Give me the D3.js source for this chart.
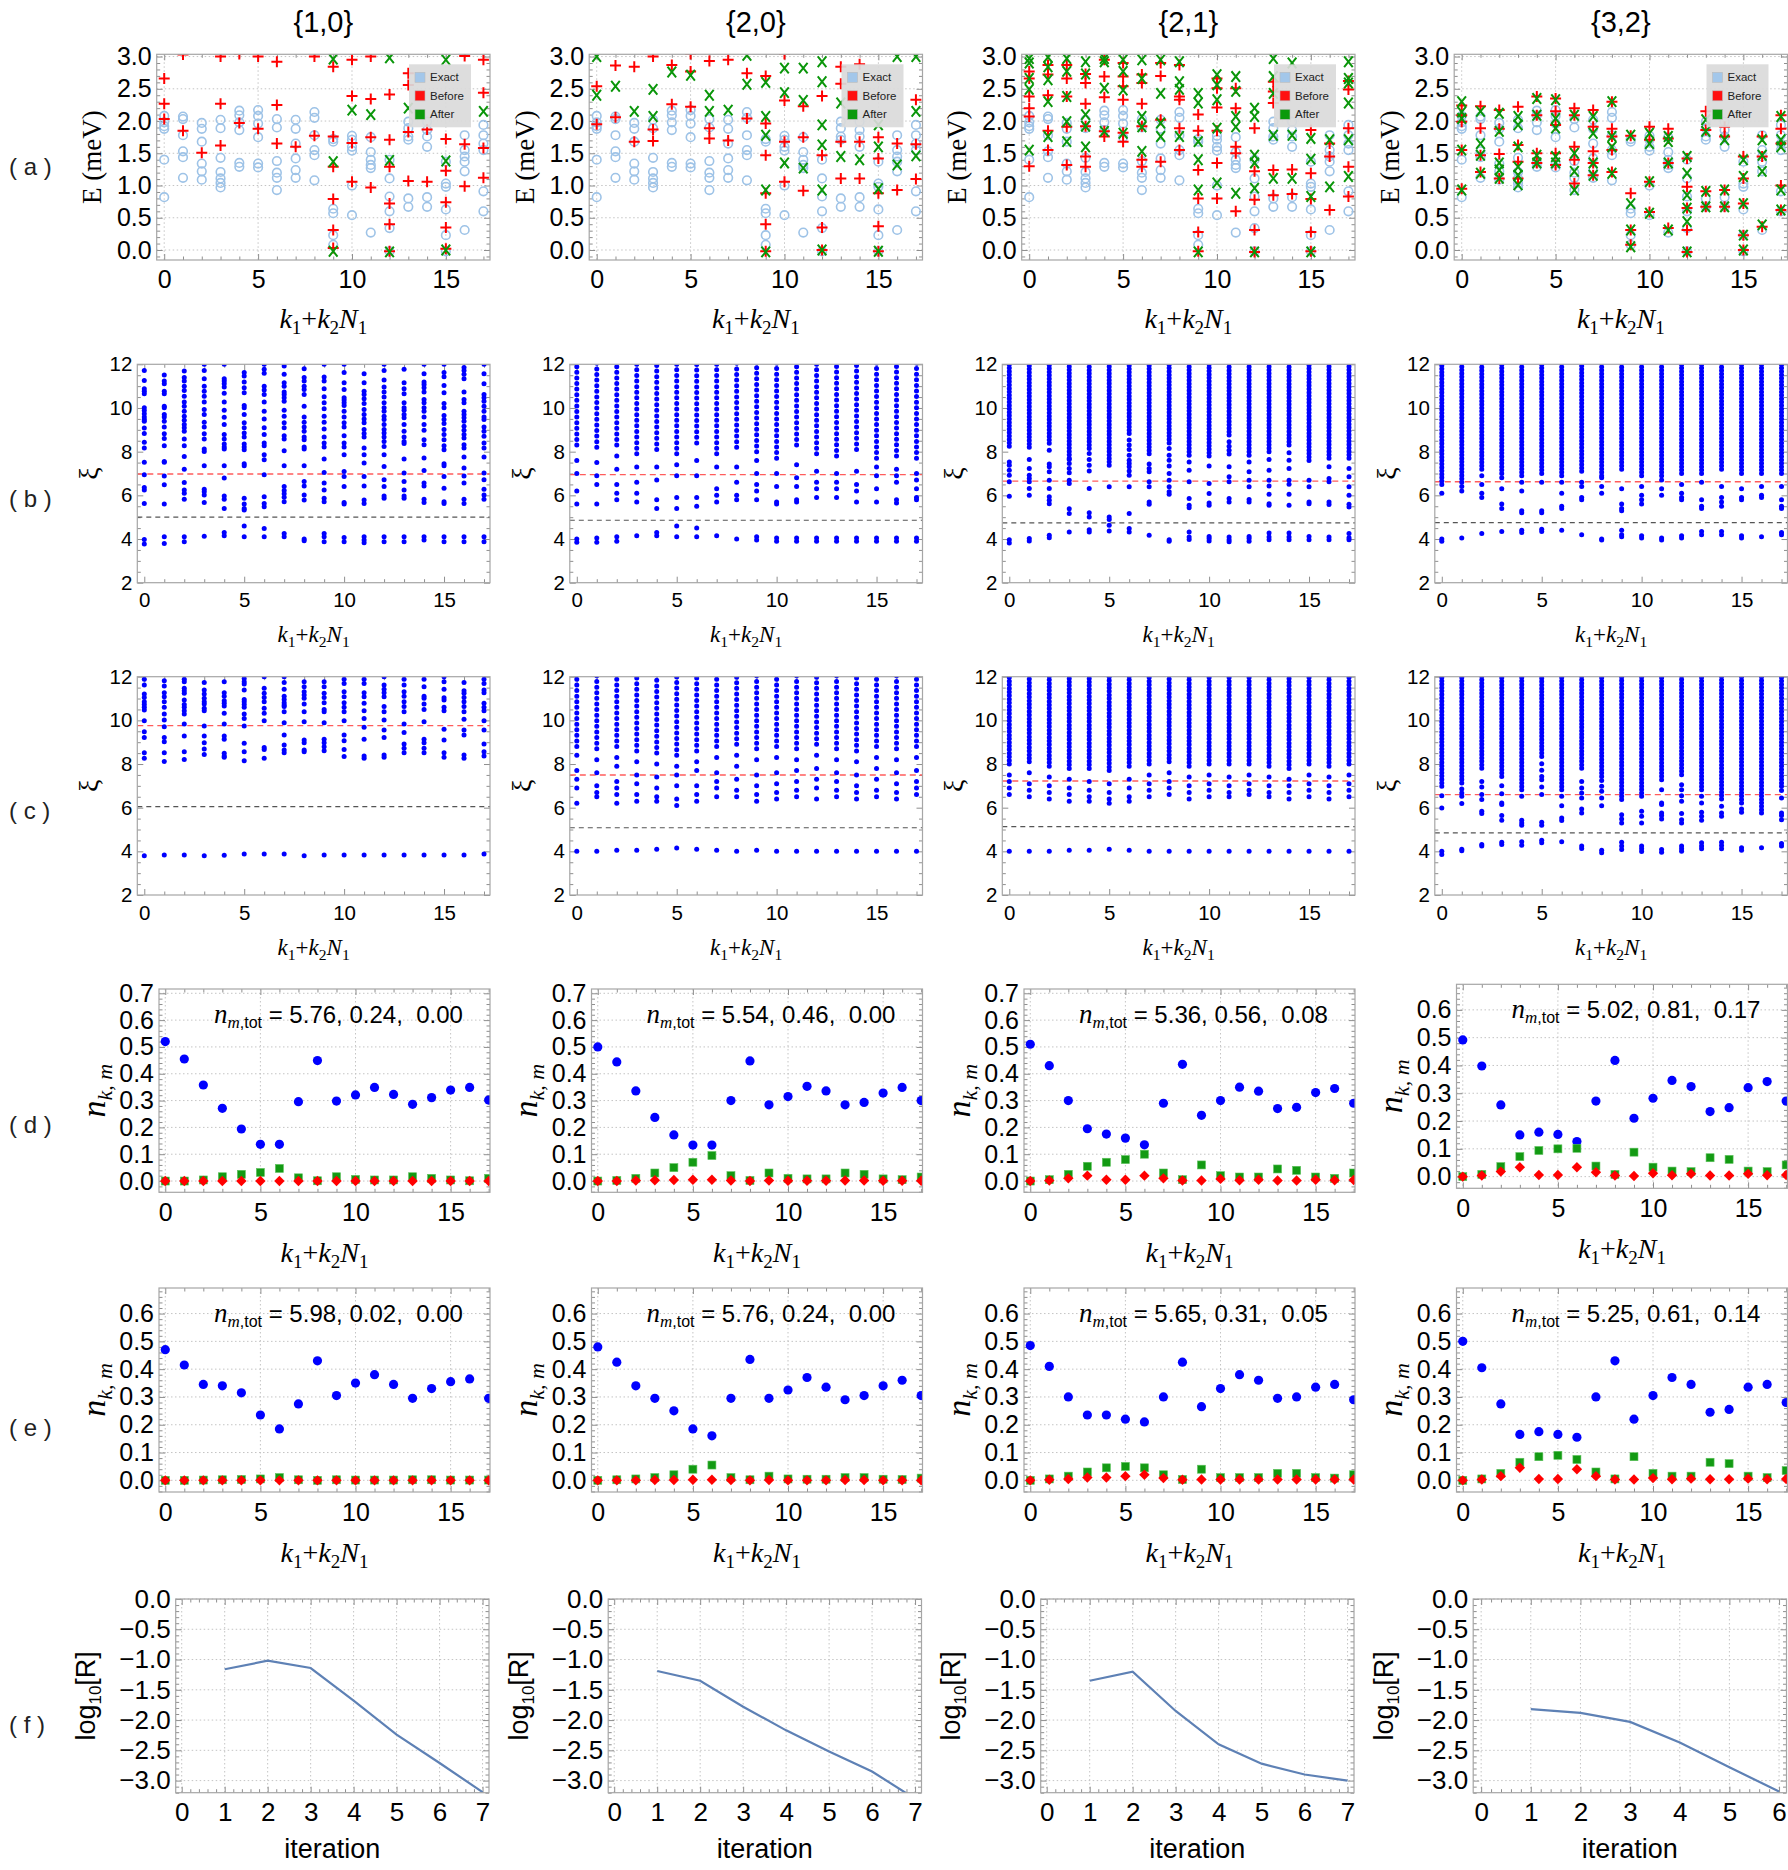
<!DOCTYPE html>
<html>
<head>
<meta charset="utf-8">
<script src="https://cdn.jsdelivr.net/npm/d3@7"></script>
<style>body{margin:0;background:#fff}svg{display:block}</style>
</head>
<body>
<svg id="fig" width="1788" height="1870"></svg>
<script>
// ---------- data ----------
const titles = ["{1,0}", "{2,0}", "{2,1}", "{3,2}"];
const rowTags = ["a", "b", "c", "d", "e", "f"];

// row (a): exact spectrum (same in every column), before / after
const aExact = [
  [2.08,1.98,1.92,1.88,1.40,0.82],[2.07,2.03,1.78,1.53,1.44,1.12],[1.97,1.88,1.68,1.34,1.22,1.09],
  [2.02,1.89,1.43,1.21,1.11,1.04,0.97],[2.16,2.09,1.98,1.86,1.35,1.29],[2.17,2.08,1.96,1.75,1.34,1.28],
  [2.03,1.90,1.38,1.20,1.12,0.93],[2.02,1.88,1.65,1.42,1.24,1.12],[2.14,2.05,1.78,1.55,1.47,1.08],
  [1.72,1.68,0.64,0.57,0.23,0.08],[1.77,1.71,1.60,1.54,1.00,0.54],[1.75,1.52,1.40,1.32,1.27,0.27],
  [1.40,1.11,0.83,0.60,0.34,-0.02],[1.99,1.89,1.76,1.71,0.80,0.67],[1.99,1.86,1.76,1.60,0.82,0.67],
  [1.37,1.03,0.98,0.63,0.23,-0.02],[1.78,1.55,1.45,1.37,1.22,0.31],[1.94,1.78,1.65,1.55,0.91,0.60]
];
const aBefore10 = [
  [2.66,2.27,2.03],[3.03,1.85],[1.51],[3.0,2.27,1.62],[3.04,1.97],[3.0,1.88],[2.92,2.25,1.65],[1.6],[3.0,1.77],
  [2.84,1.76,1.29,0.79,0.31,0.03],[2.95,2.39,1.66,1.06],[3.0,2.34,1.75,0.97],[2.41,1.71,1.29,0.72,0.40,-0.02],
  [2.74,2.56,1.83,1.07],[1.87,1.06],[1.72,1.23,0.74,0.35,0.02],[3.01,1.64,0.99],[2.95,2.44,1.58,1.12]
];
const aAfter10 = [
  [],[],[],[],[],[],[],[],[],[2.96,1.37,-0.02],[2.17],[2.10],[2.98,1.39,-0.03],[2.20],[],[2.95,1.38,0.0],[],[2.15]
];
const aBefore20 = [
  [2.54,1.95],[2.86,2.06],[2.84,1.68],[3.0,1.87,1.69],[2.87,2.26],[3.04,2.77,2.22],[2.93,1.89,1.73],[2.95,1.70],
  [2.74,2.04],[2.70,1.96,1.47,0.88,0.40,-0.02],[3.04,2.32,1.68,1.06],[2.23,1.75,0.92],[2.39,1.47,0.35,0.0],
  [2.84,2.58,1.68,1.11],[2.88,1.68,1.11],[1.75,1.42,0.88,0.37,-0.02],[1.65,0.93],[2.33,1.64,1.10]
];
const aAfter20 = [
  [3.0,2.40],[2.54],[2.15],[2.49,2.07],[2.76],[2.71],[2.40,2.15],[2.17],[3.02,2.57],[2.60,2.07,1.78,0.93,-0.03],
  [2.82,2.44,1.35],[2.82,2.32,1.27],[2.92,2.61,1.94,1.63,0.93,0.0],[2.28,1.45],[1.40],[1.94,1.60,0.95,-0.02],
  [3.0,1.32],[3.0,2.15,1.46]
];
const aBefore21 = [
  [2.77,2.66,2.38,2.20,2.07,1.30],[2.87,2.72,2.40,1.85,1.55],[2.87,2.66,2.38,1.91,1.32],[2.73,2.59,2.27,1.92,1.45,1.29],
  [2.95,2.69,2.37,1.84,1.76],[2.90,2.69,2.54,2.33,1.82,1.68],[2.72,2.59,2.27,1.92,1.40,1.29],[2.90,2.70,2.02,1.37],
  [2.87,2.38,2.33,1.89,1.55],[2.10,1.85,1.24,0.80,0.28,-0.02],[2.66,2.51,2.21,1.85,1.35,0.80],[2.51,2.20,1.60,1.50,0.60],
  [1.89,1.22,0.78,0.31,-0.03],[2.61,2.46,2.28,1.24,0.85],[1.25,0.87],[1.86,1.19,0.79,0.28,-0.02],[1.65,1.45,0.62],
  [2.62,2.49,1.89,1.29,0.83]
];
const aAfter21 = [
  [2.97,2.90,2.66,2.49,1.55],[2.99,2.84,2.64,2.30,1.76],[2.97,2.77,2.38,1.99,1.68],[2.92,2.73,2.10,1.92,1.60],
  [2.97,2.92,2.51,1.84],[2.95,2.77,2.48,1.81],[2.95,2.66,2.07,1.91,1.53],[2.95,2.43,1.97,1.76],[2.92,2.61,2.49,1.76],
  [2.43,2.28,1.68,1.40,0.93,-0.03],[2.72,2.56,2.33,1.89,1.04],[2.69,2.46,2.07,1.91,0.88],[2.20,2.07,1.47,1.35,0.96,-0.03],
  [2.97,2.69,2.43,1.78,1.11],[2.90,1.78,1.11],[1.73,1.41,0.83,-0.03],[1.71,0.98],[2.92,2.66,2.59,2.28,1.71,1.14]
];
const aBefore32 = [
  [2.24,2.09,1.99,1.55,0.95],[2.23,1.89,1.47,1.21],[2.17,1.88,1.49,1.11],[2.22,1.63,1.37,1.11],[2.38,2.09,1.50,1.35],
  [2.35,2.15,1.94,1.50,1.32],[2.20,2.09,1.60,1.40,1.03],[2.17,1.91,1.53,1.35,1.16],[2.30,1.88,1.76,1.55,1.21],
  [1.77,0.88,0.31,0.08],[1.91,1.71,1.06,0.59],[1.88,1.73,1.35,0.34],[1.42,0.98,0.65,0.31,-0.03],[2.15,1.86,0.91,0.67],
  [1.91,1.76,0.93,0.67],[1.45,1.11,0.72,0.23,0.0],[1.76,1.45,0.36],[2.09,1.88,1.65,1.00,0.62]
];
const aAfter32 = [
  [2.30,2.14,2.04,1.55,0.93],[2.15,1.65,1.47,1.19],[2.12,1.84,1.35,1.24,1.11],[2.07,1.94,1.60,1.29,1.16,1.01],
  [2.35,2.09,1.47,1.35],[2.33,2.04,1.89,1.45,1.35],[2.09,1.50,1.22,0.93],[2.07,1.81,1.35,1.16],[2.30,1.76,1.60,1.19],
  [1.78,0.72,0.31,0.05],[1.81,1.65,1.06,0.57],[1.76,1.68,1.35,0.31],[1.45,1.19,0.85,0.65,0.44,-0.03],[2.02,1.84,0.91,0.67],
  [1.71,0.93,0.67],[1.40,1.14,0.72,0.23,0.0],[1.71,1.47,1.22,0.39],[2.07,1.71,1.60,0.93,0.62]
];

// rows (b),(c): entanglement levels per k; "band" = lower end of a densely packed run up to 12
const bDots10 = [
  [11.72,11.26,10.88,10.77,10.65,10.01,9.88,9.74,9.59,9.47,9.39,9.08,8.83,8.43,8.17,7.51,6.94,6.36,6.25,5.63,3.98,3.77],
  [11.51,11.23,11.11,10.77,10.65,10.08,10.01,9.7,9.59,9.39,9.13,8.82,8.6,8.27,7.55,7.51,6.89,6.48,5.6,4.1,3.79],
  [11.69,11.39,11.23,11.0,10.8,10.54,10.27,10.08,9.85,9.62,9.44,9.24,9.09,8.93,8.58,8.27,7.78,7.2,6.59,6.25,6.1,5.82,4.1,3.87],
  [12.0,11.72,11.34,11.0,10.77,10.54,10.27,9.93,9.7,9.35,9.13,8.82,8.58,8.12,8.01,7.35,6.28,6.17,6.02,5.67,4.13],
  [12.0,11.34,11.23,11.11,10.96,10.67,10.27,9.9,9.58,9.24,8.78,8.58,8.35,8.21,8.12,7.35,6.79,5.97,5.82,5.4,4.3,4.15],
  [11.62,11.46,11.19,10.93,10.7,10.11,10.01,9.7,9.32,9.09,8.86,8.67,8.35,8.21,8.09,7.45,7.35,5.87,5.6,5.4,5.33,4.6,4.1],
  [12.0,11.77,11.59,11.0,10.82,10.62,10.27,9.85,9.5,9.09,8.78,8.4,8.27,7.86,7.63,6.94,5.94,5.63,5.48,4.48,4.1],
  [11.92,11.54,11.16,11.0,10.73,10.62,10.47,10.31,9.9,9.62,9.32,9.09,8.73,8.58,8.04,7.35,6.4,6.22,6.07,5.91,5.71,4.25,4.1],
  [11.8,11.39,11.23,11.0,10.85,10.62,10.08,9.59,9.35,9.13,8.93,8.67,8.55,8.21,8.12,7.35,6.63,6.43,6.02,5.79,4.0,3.92],
  [12.0,11.42,11.23,10.88,10.51,10.24,9.96,9.62,9.35,9.04,8.67,8.4,8.21,7.66,7.05,6.56,6.25,5.87,5.71,4.25,4.1,3.87],
  [12.0,11.62,11.16,10.85,10.47,10.36,10.24,10.11,9.85,9.59,9.32,9.13,8.73,8.4,8.21,7.86,7.09,6.86,6.4,5.67,5.6,4.07,3.87],
  [11.57,11.16,10.77,10.62,10.42,10.21,9.93,9.7,9.5,9.32,9.01,8.83,8.67,8.17,7.86,7.48,6.86,6.43,5.79,5.63,4.1,3.95,3.83],
  [12.0,11.72,11.28,10.96,10.73,10.5,10.24,10.01,9.85,9.62,9.47,9.24,9.01,8.86,8.67,8.47,8.24,7.86,7.32,6.71,6.4,5.97,5.87,4.1,3.87],
  [11.77,11.16,10.88,10.65,10.24,10.01,9.9,9.7,9.55,9.24,8.93,8.67,8.47,8.37,7.66,7.02,6.63,6.25,5.97,5.87,4.1,3.87],
  [12.0,11.57,11.19,11.08,10.93,10.73,10.39,10.24,10.01,9.85,9.59,9.24,8.98,8.55,8.32,7.71,7.14,6.56,6.43,5.82,5.67,4.1,3.95],
  [12.0,11.62,11.43,11.03,10.7,10.21,10.01,9.66,9.47,9.29,9.01,8.78,8.55,8.27,8.09,7.45,7.35,6.86,6.33,5.71,5.63,4.1,3.87],
  [11.85,11.72,11.54,11.34,10.73,10.39,10.24,9.85,9.7,9.55,9.39,9.16,8.98,8.78,8.63,8.32,8.17,7.75,7.25,6.89,6.56,5.82,5.63,4.1,3.87],
  [12.0,11.57,11.11,10.62,10.47,10.31,10.08,9.85,9.59,9.47,9.13,8.93,8.7,8.4,8.17,7.75,7.02,6.71,6.28,6.02,5.82,4.1,3.87]
];
const bBand10 = Array(18).fill(null);
const bDots20 = [
  [7.6,7.0,6.2,5.6,4.0,3.85],[7.5,6.9,6.5,5.6,4.05,3.85],[7.8,7.2,6.5,6.1,5.8,4.1,3.9],[7.3,6.6,6.1,5.7,4.15],
  [7.3,6.7,5.8,5.4,4.3,4.15],[7.4,6.9,5.9,5.4,4.6,4.1],[7.6,6.9,5.9,5.5,4.5,4.1],[7.3,6.3,6.0,5.7,4.15],
  [7.3,6.6,6.0,5.8,4.0],[7.6,7.0,6.5,6.2,5.8,4.1,3.95],[7.0,6.4,5.7,5.6,4.05,3.9],[7.4,6.8,6.4,5.8,5.7,4.05,3.9],
  [7.1,6.6,6.3,5.9,4.05,3.9],[7.0,6.6,6.3,5.9,4.05,3.9],[7.1,6.5,6.2,5.7,4.05,3.9],[7.3,6.9,6.3,5.7,4.05,3.9],
  [7.2,6.9,6.6,5.8,5.65,4.05,3.9],[7.0,6.7,6.3,5.9,5.8,4.05,3.9]
];
const bBand20 = [8.3,8.2,8.3,7.9,8.1,7.9,8.4,7.9,8.2,8.0,7.7,8.3,7.9,7.8,8.1,7.7,7.8,7.7];
const bDots21 = [
  [7.53,7.38,7.15,6.92,6.62,5.96,3.97,3.82],[7.64,7.23,6.92,6.77,6.62,6.31,6.0,4.02,3.91],
  [8.07,7.43,7.31,7.08,6.69,6.31,5.93,5.78,5.62,4.17,4.06],[7.64,7.46,7.23,7.03,6.69,6.54,5.39,5.17,4.32],
  [7.92,7.64,7.38,7.12,6.31,5.2,5.01,4.43,4.32],[6.39,5.01,4.89,4.63,4.37],
  [8.53,8.3,8.1,7.84,7.61,7.46,7.31,7.12,6.92,6.39,5.17,4.48,4.32],[7.43,7.23,7.08,6.62,6.39,5.7,5.59,4.17],
  [8.15,7.84,7.61,7.34,7.0,6.69,6.39,6.16,6.05,3.97,3.9],[7.84,7.53,7.15,6.62,5.85,5.55,5.43,4.32,4.09,3.98],
  [7.34,6.54,6.08,5.65,5.55,4.12,4.02,3.91],[8.45,8.25,8.07,7.89,7.31,6.85,6.62,5.85,5.7,4.09,3.97,3.87],
  [7.84,7.53,7.08,6.69,6.39,5.81,5.7,4.12,4.02,3.9],[7.64,7.15,6.69,6.43,6.05,5.62,5.55,4.28,4.09,3.97],
  [7.95,7.61,7.23,6.69,6.51,6.05,5.55,4.28,4.09,3.97],[6.69,6.39,5.7,5.62,4.12,3.97],
  [7.31,6.77,6.62,5.7,5.58,4.09,3.97],[7.23,6.85,6.39,6.0,5.59,5.47,4.25,4.06,3.97]
];
const bBand21 = [8.25,8.2,8.38,7.7,8.15,7.38,8.83,7.9,8.4,8.0,7.8,8.76,8.0,8.0,8.3,7.6,7.7,7.7];
const bDots32 = [
  [6.1,4.0,3.9],[6.4,6.2,4.05],[6.9,6.5,6.1,5.9,4.25],[6.8,6.3,5.6,5.4,4.35],[6.6,6.2,5.3,5.2,4.4,4.3],
  [6.6,5.3,5.2,4.45,4.35],[6.6,6.1,5.5,5.4,4.4],[6.6,6.4,5.9,5.8,4.2],[6.8,6.4,6.1,4.0,3.95],
  [6.3,5.6,5.4,5.3,4.4,4.2,4.1],[6.4,6.0,5.8,5.6,4.15,4.05],[6.7,6.3,6.0,4.05,3.95],[6.5,6.1,5.9,5.8,4.15,4.05],
  [6.6,5.8,5.5,5.4,4.35,4.2],[6.4,5.9,5.7,5.5,4.35,4.2],[6.3,5.9,5.8,4.15,4.05],[6.4,6.0,5.9,4.1],[6.4,5.8,5.5,5.4,4.3,4.2]
];
const bBand32 = [6.5,6.6,7.2,7.0,6.9,7.0,6.9,7.1,6.9,7.2,6.9,6.9,7.0,7.0,7.2,7.0,7.0,7.0];

const cDots10 = [
  [11.88,11.62,11.21,11.05,10.85,10.73,10.6,10.47,9.98,9.48,9.22,8.52,8.26,3.8],
  [11.82,11.57,11.27,11.08,10.85,10.6,10.29,10.02,9.71,9.22,9.02,8.52,8.11,3.83],
  [11.88,11.77,11.47,11.36,11.24,10.93,10.73,10.6,10.44,10.29,9.83,9.28,8.56,8.21,3.83],
  [11.74,11.39,11.21,11.01,10.85,10.75,10.55,10.44,9.74,9.28,8.98,8.69,8.44,3.8],
  [11.77,11.27,11.11,10.9,10.78,10.66,10.32,9.83,9.28,9.13,8.49,8.37,8.31,3.82],
  [11.92,11.77,11.66,11.39,10.96,10.85,10.73,10.6,10.29,10.09,9.74,8.95,8.56,8.15,3.88],
  [12.0,11.47,11.24,11.05,10.85,10.55,10.32,9.98,8.76,8.67,8.26,3.88],
  [12.0,11.73,11.42,11.11,10.96,10.81,10.7,10.63,10.4,9.89,9.33,8.87,8.64,8.52,3.88],
  [11.77,11.54,11.31,11.16,11.01,10.75,10.4,9.94,9.1,8.98,8.64,8.56,3.8],
  [11.77,11.54,11.24,11.05,10.81,10.5,10.4,9.89,9.13,8.98,8.79,8.61,3.83],
  [11.88,11.69,11.31,11.08,10.81,10.6,10.4,9.98,9.33,9.07,8.67,8.34,3.83],
  [11.88,11.69,11.27,11.08,10.78,10.44,10.09,9.68,9.13,8.37,8.26,3.83],
  [12.0,11.62,11.42,11.27,11.08,10.63,10.4,10.02,9.56,9.22,8.41,8.31,3.83],
  [11.88,11.62,11.31,11.11,10.85,10.63,10.4,9.83,9.44,8.92,8.72,8.52,3.83],
  [11.88,11.54,11.11,11.01,10.75,10.5,9.94,9.13,8.98,8.72,8.52,3.83],
  [12.0,11.77,11.42,11.04,10.93,10.6,10.44,9.59,9.1,8.52,8.31,3.83],
  [11.73,11.36,11.24,11.05,10.85,10.63,10.4,10.05,9.56,9.33,8.41,8.26,3.83],
  [11.88,11.69,11.39,11.27,10.78,10.6,10.44,9.98,9.56,8.92,8.56,8.37,3.88]
];
const cBand10 = Array(18).fill(null);
const cDots20 = [
  [8.4,7.7,7.3,6.9,6.2,4.0],[8.2,7.6,7.0,6.7,6.5,4.0],[8.3,7.9,7.2,6.9,6.6,6.2,4.05],[8.1,7.5,7.1,6.6,6.3,4.05],
  [8.0,7.4,6.9,6.5,6.3,4.1],[7.9,7.5,7.0,6.4,6.1,4.15],[8.1,7.7,7.0,6.6,6.3,4.1],[8.3,7.6,7.2,6.9,6.5,4.05],
  [8.4,7.9,7.3,6.8,6.5,4.0],[8.2,7.5,7.0,6.6,6.3,4.05],[8.3,7.6,7.1,6.7,6.4,4.0],[8.2,7.7,7.2,6.8,6.5,4.0],
  [8.4,7.8,7.3,6.9,6.4,4.0],[8.2,7.6,7.2,6.8,6.5,4.0],[8.1,7.5,7.0,6.7,6.4,4.0],[8.3,7.8,7.3,6.8,6.5,4.0],
  [8.2,7.6,7.1,6.7,6.4,4.0],[8.3,7.7,7.2,6.9,6.6,4.0]
];
const cBand20 = [8.8,8.7,8.8,8.6,8.5,8.4,8.6,8.8,8.9,8.7,8.8,8.7,8.9,8.7,8.6,8.8,8.7,8.8];
const cDots21 = [
  [7.5,7.2,6.9,6.6,4.0],[7.6,7.1,6.8,6.5,4.0],[7.4,7.0,6.7,6.4,4.0],[7.3,6.9,6.6,6.3,4.05],[7.2,6.8,6.5,6.3,4.05],
  [7.1,6.7,6.4,6.2,4.1],[7.3,6.9,6.5,6.3,4.05],[7.5,7.1,6.8,6.5,4.0],[7.6,7.2,6.9,6.6,4.0],[7.4,7.0,6.7,6.4,4.0],
  [7.5,7.1,6.8,6.5,4.0],[7.4,7.0,6.7,6.5,4.0],[7.5,7.1,6.8,6.6,4.0],[7.4,7.0,6.7,6.5,4.0],[7.3,7.0,6.7,6.4,4.0],
  [7.5,7.1,6.8,6.5,4.0],[7.4,7.0,6.7,6.4,4.0],[7.5,7.1,6.8,6.5,4.0]
];
const cBand21 = [8.0,8.1,7.9,7.8,7.8,7.7,7.9,8.0,8.1,7.9,8.0,8.0,8.0,7.9,7.8,8.0,7.9,8.0];
const cDots32 = [
  [6.55,5.99,4.0,3.86],[6.86,6.67,6.52,6.19,4.1,4.03],[7.2,6.95,6.6,6.37,5.84,5.73,4.31,4.24],
  [7.0,6.64,6.22,6.14,5.64,5.42,4.42,4.31],[6.52,5.42,5.3,5.2,4.44,4.28],[8.01,7.71,7.43,7.28,6.95,6.6,5.33,5.2,4.51,4.39],
  [6.52,6.09,5.53,5.41,4.44],[7.2,6.9,6.67,6.44,5.94,5.76,4.24,4.13],[7.25,6.98,6.75,6.44,6.09,4.05,3.93],
  [5.68,5.48,5.3,4.42,4.24,4.09],[5.84,5.61,5.3,4.24,4.12,3.99],[6.82,6.22,6.14,5.76,5.64,5.48,4.09,3.96],
  [7.05,6.82,6.55,6.29,5.73,5.45,5.3,4.24,4.12,4.0],[6.52,6.22,5.79,5.61,5.42,4.39,4.24,4.12],
  [6.06,5.76,5.61,4.42,4.27,4.12],[5.94,5.79,4.16,4.05],[5.76,4.16],[6.98,6.79,6.44,5.76,5.64,5.45,4.36,4.24]
];
const cBand32 = [6.98,7.13,7.81,7.43,6.82,8.35,6.82,7.81,7.43,6.37,6.52,7.28,7.51,6.82,6.4,6.22,5.91,7.13];

// dashed reference levels [red, black]
const bRefs = [[6.98, 5.0], [6.95, 4.86], [6.65, 4.74], [6.62, 4.75]];
const cRefs = [[9.76, 6.05], [7.5, 5.08], [7.22, 5.13], [6.6, 4.85]];
// pixel pitch of the packed levels in each column's band (row b / row c)
const bPitch = [0, 5.6, 3.4, 3.4];
const cPitch = [0, 5.6, 3.6, 3.4];

// rows (d),(e): occupations n_{k,m}, m = 1 (blue), 2 (green), 3 (red)
const dBlue10 = [0.52,0.455,0.358,0.271,0.194,0.137,0.137,0.296,0.449,0.298,0.321,0.349,0.323,0.286,0.311,0.339,0.349,0.302];
const dGreen10 = [0,0,0.004,0.016,0.025,0.032,0.047,0.012,0.001,0.016,0.006,0.004,0.004,0.016,0.01,0.004,0.001,0.01];
const dRed10 = [0,0,0,0,0,0,0,0,0,0,0,0,0,0,0,0,0,0];
const dBlue20 = [0.5,0.444,0.336,0.237,0.172,0.134,0.134,0.3,0.448,0.284,0.315,0.353,0.336,0.284,0.293,0.328,0.349,0.3];
const dGreen20 = [0,0.002,0.01,0.03,0.05,0.07,0.095,0.02,0.002,0.03,0.01,0.008,0.008,0.03,0.025,0.008,0.005,0.015];
const dRed20 = [0,0,0.002,0.003,0.004,0.005,0.005,0.002,0,0.002,0.001,0.001,0.001,0.002,0.002,0.001,0.001,0.001];
const dBlue21 = [0.51,0.43,0.3,0.195,0.175,0.16,0.135,0.29,0.435,0.245,0.3,0.35,0.335,0.27,0.275,0.33,0.345,0.29];
const dGreen21 = [0,0.005,0.025,0.055,0.07,0.08,0.1,0.03,0.005,0.06,0.02,0.015,0.015,0.045,0.04,0.015,0.01,0.03];
const dRed21 = [0,0.002,0.01,0.02,0.005,0.005,0.02,0.01,0.002,0.002,0.008,0.003,0.005,0.002,0.002,0.005,0.003,0.004];
const dBlue32 = [0.492,0.398,0.258,0.15,0.16,0.152,0.126,0.272,0.418,0.21,0.282,0.346,0.324,0.234,0.248,0.32,0.342,0.272];
const dGreen32 = [0,0.008,0.036,0.072,0.094,0.1,0.102,0.038,0.008,0.088,0.034,0.02,0.018,0.068,0.062,0.02,0.018,0.042];
const dRed32 = [0,0.004,0.018,0.034,0.006,0.006,0.034,0.016,0.004,0.002,0.012,0.005,0.01,0.004,0.004,0.01,0.005,0.006];
const dTotals = ["5.76, 0.24,  0.00", "5.54, 0.46,  0.00", "5.36, 0.56,  0.08", "5.02, 0.81,  0.17"];

const eBlue10 = [0.47,0.415,0.345,0.34,0.315,0.235,0.185,0.275,0.43,0.305,0.35,0.38,0.345,0.295,0.33,0.355,0.365,0.295];
const eGreen10 = [0,0,0.001,0.002,0.003,0.005,0.01,0.002,0,0.002,0.001,0.001,0.001,0.002,0.002,0.001,0.001,0.001];
const eRed10 = [0,0,0,0,0,0,0,0,0,0,0,0,0,0,0,0,0,0];
const eBlue20 = [0.48,0.425,0.34,0.295,0.25,0.185,0.16,0.295,0.435,0.295,0.325,0.37,0.335,0.29,0.305,0.34,0.36,0.305];
const eGreen20 = [0,0.002,0.005,0.01,0.02,0.04,0.055,0.01,0.002,0.015,0.005,0.004,0.004,0.01,0.01,0.004,0.003,0.008];
const eRed20 = [0,0,0,0.001,0.001,0.002,0.002,0.001,0,0.001,0,0,0,0.001,0.001,0,0,0];
const eBlue21 = [0.485,0.41,0.3,0.235,0.235,0.22,0.21,0.3,0.425,0.265,0.33,0.38,0.36,0.295,0.3,0.335,0.345,0.29];
const eGreen21 = [0,0.005,0.015,0.03,0.045,0.05,0.045,0.02,0.003,0.04,0.01,0.01,0.01,0.025,0.025,0.01,0.008,0.02];
const eRed21 = [0,0.002,0.005,0.01,0.01,0.015,0.02,0.008,0.002,0.003,0.003,0.003,0.003,0.003,0.003,0.003,0.003,0.003];
const eBlue32 = [0.5,0.405,0.275,0.165,0.175,0.165,0.155,0.3,0.43,0.22,0.305,0.37,0.345,0.245,0.255,0.335,0.345,0.28];
const eGreen32 = [0,0.005,0.025,0.065,0.085,0.09,0.075,0.03,0.005,0.085,0.025,0.015,0.015,0.065,0.06,0.015,0.01,0.035];
const eRed32 = [0,0.003,0.015,0.045,0.005,0.005,0.04,0.015,0.003,0.003,0.008,0.004,0.006,0.004,0.004,0.006,0.004,0.005];
const eTotals = ["5.98, 0.02,  0.00", "5.76, 0.24,  0.00", "5.65, 0.31,  0.05", "5.25, 0.61,  0.14"];

// row (f): log10 of residual per iteration (iterations start at 1)
const fLog10 = [-1.16,-1.02,-1.14,-1.68,-2.24,-2.71,-3.19];
const fLog20 = [-1.19,-1.35,-1.78,-2.17,-2.52,-2.85,-3.3];
const fLog21 = [-1.35,-1.2,-1.85,-2.4,-2.72,-2.9,-3.0];
const fLog32 = [-1.82,-1.88,-2.03,-2.37,-2.78,-3.18];

// ---------- drawing ----------
const svg = d3.select("#fig");
const colDx = 432.5;
const sans = "'Liberation Sans', Arial, Helvetica, sans-serif";
const serif = "'Liberation Serif', 'Times New Roman', serif";
const ks = d3.range(18);
let clipN = 0;

function minors(dom, step, majors) {
  const lo = Math.ceil(dom[0] / step - 1e-6) * step;
  return d3.range(lo, dom[1] + 1e-9, step).filter(v => !majors.some(m => Math.abs(m - v) < 1e-6));
}

function makePanel(o) {
  const g = svg.append("g").attr("transform", `translate(${o.left},${o.top})`);
  const x = d3.scaleLinear().domain(o.xDom).range([0, o.w]);
  const y = d3.scaleLinear().domain(o.yDom).range([o.h, 0]);
  const id = "clip" + (clipN++);
  g.append("clipPath").attr("id", id).append("rect").attr("width", o.w).attr("height", o.h);

  if (o.grid) {
    const gg = g.append("g").attr("stroke", "#c4c4c4").attr("stroke-width", 1).attr("stroke-dasharray", "1.5,2.5");
    gg.selectAll("line.vx").data(o.xTicks).join("line")
      .attr("x1", d => x(d)).attr("x2", d => x(d)).attr("y1", 0).attr("y2", o.h);
    gg.selectAll("line.hy").data(o.yTicks).join("line")
      .attr("y1", d => y(d)).attr("y2", d => y(d)).attr("x1", 0).attr("x2", o.w);
  }

  const xMin = minors(o.xDom, o.xMinor, o.xTicks);
  const yMin = minors(o.yDom, o.yMinor, o.yTicks);
  const axes = [
    [d3.axisBottom(x).tickValues(o.xTicks).tickSize(-6).tickPadding(o.xPad).tickFormat(o.xFmt), [0, o.h]],
    [d3.axisBottom(x).tickValues(xMin).tickSize(-3.5).tickFormat(""), [0, o.h]],
    [d3.axisTop(x).tickValues(o.xTicks).tickSize(-6).tickFormat(""), [0, 0]],
    [d3.axisTop(x).tickValues(xMin).tickSize(-3.5).tickFormat(""), [0, 0]],
    [d3.axisLeft(y).tickValues(o.yTicks).tickSize(-6).tickPadding(o.yPad).tickFormat(o.yFmt), [0, 0]],
    [d3.axisLeft(y).tickValues(yMin).tickSize(-3.5).tickFormat(""), [0, 0]],
    [d3.axisRight(y).tickValues(o.yTicks).tickSize(-6).tickFormat(""), [o.w, 0]],
    [d3.axisRight(y).tickValues(yMin).tickSize(-3.5).tickFormat(""), [o.w, 0]]
  ];
  axes.forEach(([ax, t]) => {
    const a = g.append("g").attr("transform", `translate(${t[0]},${t[1]})`).call(ax);
    a.attr("font-size", null).attr("font-family", null);
    a.select(".domain").remove();
    a.selectAll(".tick line").attr("stroke", "#8f8f8f");
    a.selectAll(".tick text").attr("font-family", sans).attr("font-size", o.tickSize).attr("fill", "#000");
  });

  const plot = g.append("g").attr("clip-path", `url(#${id})`);
  g.append("rect").attr("width", o.w).attr("height", o.h)
    .attr("fill", "none").attr("stroke", "#a6a6a6").attr("stroke-width", 1.2);
  return { g, x, y, plot, w: o.w, h: o.h };
}

function kLabel(p, dy, size) {
  const t = p.g.append("text").attr("x", p.w / 2).attr("y", p.h + dy)
    .attr("text-anchor", "middle").attr("font-family", serif).attr("font-size", size).attr("fill", "#000");
  const parts = [["k", "i"], ["1", "s"], ["+", "n"], ["k", "i"], ["2", "s"], ["N", "i"], ["1", "s"]];
  let down = false;
  parts.forEach(([s, kind]) => {
    const ts = t.append("tspan").text(s);
    if (kind === "i") ts.attr("font-style", "italic");
    if (kind === "s") { ts.attr("font-size", size * 0.68).attr("dy", down ? 0 : size * 0.22); down = true; }
    else if (down) { ts.attr("dy", -size * 0.22); down = false; }
  });
}

function yLabel(p, dx, build) {
  const t = p.g.append("text")
    .attr("transform", `translate(${dx},${p.h / 2}) rotate(-90)`)
    .attr("text-anchor", "middle").attr("dy", "0.35em").attr("fill", "#000");
  build(t);
}

const rowA = { top: 54.3, left: 156.7, w: 333.3, h: 205.7, xDom: [-0.4, 17.35], yDom: [-0.155, 3.035] };
const rowB = { top: 364.3, left: 137.3, w: 352.7, h: 218.4, xDom: [-0.35, 17.3], yDom: [2, 12] };
const rowC = { top: 676.7, left: 137.3, w: 352.7, h: 218.3, xDom: [-0.35, 17.3], yDom: [2, 12] };
const rowD = { top: 989, left: 159, w: 331, h: 203.3, xDom: [-0.33, 17.07], yDom: [-0.042, 0.716] };
const rowE = { top: 1288, left: 159, w: 331, h: 204, xDom: [-0.33, 17.07], yDom: [-0.042, 0.692] };
const rowF = { top: 1599, left: 175.7, w: 313.3, h: 193.7, xDom: [-0.14, 7.15], yDom: [-3.2, 0] };

// row labels
const rowCenters = [167, 499, 811, 1125, 1428, 1725];
rowTags.forEach((t, i) => {
  svg.append("text").attr("x", 9).attr("y", rowCenters[i] + 8)
    .attr("font-family", sans).attr("font-size", 24).attr("fill", "#222")
    .style("white-space", "pre").text("( " + t + " )");
});

// ----- row (a)
const aBefore = [aBefore10, aBefore20, aBefore21, aBefore32];
const aAfter = [aAfter10, aAfter20, aAfter21, aAfter32];
const flat = arr => arr.flatMap((vs, k) => vs.map(v => [k, v]));
const legendItems = [["Exact", "#a3c7ea"], ["Before", "#ff1010"], ["After", "#0c9a0c"]];

titles.forEach((title, c) => {
  const p = makePanel(Object.assign({}, rowA, {
    left: rowA.left + c * colDx, grid: true,
    xTicks: [0, 5, 10, 15], xMinor: 1, yTicks: d3.range(0, 3.01, 0.5), yMinor: 0.1,
    xFmt: d3.format("d"), yFmt: d3.format(".1f"), xPad: 10, yPad: 5, tickSize: 25
  }));
  p.plot.append("g").selectAll("circle").data(flat(aExact)).join("circle")
    .attr("cx", d => p.x(d[0])).attr("cy", d => p.y(d[1])).attr("r", 4.3)
    .attr("fill", "none").attr("stroke", "#9ec3e7").attr("stroke-width", 1.6);
  p.plot.append("g").selectAll("path").data(flat(aBefore[c])).join("path")
    .attr("transform", d => `translate(${p.x(d[0])},${p.y(d[1])})`)
    .attr("d", "M-5.5,0H5.5M0,-5.5V5.5").attr("stroke", "#ff0000").attr("stroke-width", 2);
  p.plot.append("g").selectAll("path").data(flat(aAfter[c])).join("path")
    .attr("transform", d => `translate(${p.x(d[0])},${p.y(d[1])})`)
    .attr("d", "M-4.3,-5.3L4.3,5.3M-4.3,5.3L4.3,-5.3").attr("stroke", "#0a960a").attr("stroke-width", 2);

  const lg = p.g.append("g").attr("transform", `translate(${p.w - 81},10)`);
  lg.append("rect").attr("width", 62).attr("height", 63).attr("fill", "#dadada").attr("opacity", 0.92);
  legendItems.forEach(([name, col], i) => {
    lg.append("rect").attr("x", 6).attr("y", 8 + i * 18.5).attr("width", 10).attr("height", 10)
      .attr("fill", col).attr("stroke", "#bbb").attr("stroke-width", 0.6);
    lg.append("text").attr("x", 21).attr("y", 17 + i * 18.5).attr("font-family", sans)
      .attr("font-size", 11.5).attr("fill", "#222").text(name);
  });

  p.g.append("text").attr("x", p.w / 2).attr("y", -22).attr("text-anchor", "middle")
    .attr("font-family", sans).attr("font-size", 29).attr("fill", "#000").text(title);
  kLabel(p, 68, 28);
  yLabel(p, -64.7, t => t.attr("font-family", serif).attr("font-size", 27).text("E (meV)"));
});

// ----- rows (b), (c)
const bDots = [bDots10, bDots20, bDots21, bDots32], bBands = [bBand10, bBand20, bBand21, bBand32];
const cDots = [cDots10, cDots20, cDots21, cDots32], cBands = [cBand10, cBand20, cBand21, cBand32];
function drawXi(row, c, dots, bands, refs, pitch) {
  const p = makePanel(Object.assign({}, row, {
    left: row.left + c * colDx, grid: false,
    xTicks: [0, 5, 10, 15], xMinor: 1, yTicks: [2, 4, 6, 8, 10, 12], yMinor: 0.5,
    xFmt: d3.format("d"), yFmt: d3.format("d"), xPad: 10, yPad: 5, tickSize: 20.5
  }));
  p.plot.append("line").attr("x1", 0).attr("x2", p.w).attr("y1", p.y(refs[0])).attr("y2", p.y(refs[0]))
    .attr("stroke", "#ff5c5c").attr("stroke-width", 1.4).attr("stroke-dasharray", "6,4");
  p.plot.append("line").attr("x1", 0).attr("x2", p.w).attr("y1", p.y(refs[1])).attr("y2", p.y(refs[1]))
    .attr("stroke", "#555").attr("stroke-width", 1.2).attr("stroke-dasharray", "5,4");
  // packed levels: drawn as a column of touching dots from the band's lower end upward
  const bandData = ks.filter(k => bands[k] !== null).map(k => [k, bands[k]]);
  p.plot.append("g").selectAll("line").data(bandData).join("line")
    .attr("x1", d => p.x(d[0])).attr("x2", d => p.x(d[0]))
    .attr("y1", d => p.y(d[1])).attr("y2", p.y(12.3))
    .attr("stroke", "#0000ff").attr("stroke-width", 5).attr("stroke-linecap", "round")
    .attr("stroke-dasharray", `0,${pitch}`);
  p.plot.append("g").selectAll("circle").data(flat(dots)).join("circle")
    .attr("cx", d => p.x(d[0])).attr("cy", d => p.y(d[1])).attr("r", 2.5).attr("fill", "#0000ff");
  kLabel(p, row === rowB ? 59 : 60, 23);
  yLabel(p, -49, t => t.attr("font-family", serif).attr("font-size", 28).text("ξ"));
}
titles.forEach((_, c) => drawXi(rowB, c, bDots[c], bBands[c], bRefs[c], bPitch[c]));
titles.forEach((_, c) => drawXi(rowC, c, cDots[c], cBands[c], cRefs[c], cPitch[c]));

// ----- rows (d), (e)
const dSets = [[dBlue10, dGreen10, dRed10], [dBlue20, dGreen20, dRed20], [dBlue21, dGreen21, dRed21], [dBlue32, dGreen32, dRed32]];
const eSets = [[eBlue10, eGreen10, eRed10], [eBlue20, eGreen20, eRed20], [eBlue21, eGreen21, eRed21], [eBlue32, eGreen32, eRed32]];
function drawOcc(row, c, sets, total) {
  const yMax = row.yDom[1];
  const p = makePanel(Object.assign({}, row, {
    left: row.left + c * colDx, grid: true,
    xTicks: [0, 5, 10, 15], xMinor: 1, yTicks: d3.range(0, yMax + 1e-6, 0.1).map(v => +v.toFixed(1)), yMinor: 0.02,
    xFmt: d3.format("d"), yFmt: d3.format(".1f"), xPad: 11, yPad: 5, tickSize: 25
  }));
  const [blue, green, red] = sets;
  p.plot.append("g").selectAll("circle").data(blue).join("circle")
    .attr("cx", (d, k) => p.x(k)).attr("cy", d => p.y(d)).attr("r", 4.6).attr("fill", "#0000ff");
  p.plot.append("g").selectAll("rect").data(green).join("rect")
    .attr("x", (d, k) => p.x(k) - 4).attr("y", d => p.y(d) - 4).attr("width", 8).attr("height", 8)
    .attr("fill", "#139a13").attr("stroke", "#5cc25c").attr("stroke-width", 0.6);
  p.plot.append("g").selectAll("path").data(red).join("path")
    .attr("transform", (d, k) => `translate(${p.x(k)},${p.y(d)})`)
    .attr("d", "M0,-5.2L5.2,0L0,5.2L-5.2,0Z").attr("fill", "#ff0000");
  const t = p.g.append("text").attr("x", 55).attr("y", 34).attr("fill", "#000").style("white-space", "pre");
  t.append("tspan").attr("font-family", serif).attr("font-style", "italic").attr("font-size", 27).text("n");
  t.append("tspan").attr("font-family", serif).attr("font-style", "italic").attr("font-size", 17).attr("dy", 5).text("m");
  t.append("tspan").attr("font-family", sans).attr("font-size", 16).text(",tot");
  t.append("tspan").attr("font-family", sans).attr("font-size", 24).attr("dy", -5).text(" = " + total);
  kLabel(p, 70, 28);
  yLabel(p, -60, tt => {
    tt.attr("font-family", serif).attr("font-style", "italic");
    tt.append("tspan").attr("font-size", 34).text("n");
    tt.append("tspan").attr("font-size", 22).attr("dy", 7).text("k, m");
  });
}
titles.forEach((_, c) => {
  const row = c === 3 ? Object.assign({}, rowD, { top: 984.3, h: 204, yDom: [-0.042, 0.692] }) : rowD;
  drawOcc(row, c, dSets[c], dTotals[c]);
});
titles.forEach((_, c) => drawOcc(rowE, c, eSets[c], eTotals[c]));

// ----- row (f)
const fSets = [fLog10, fLog20, fLog21, fLog32];
fSets.forEach((vals, c) => {
  const nIt = c === 3 ? 6 : 7;
  const p = makePanel(Object.assign({}, rowF, {
    left: rowF.left + c * colDx, grid: true,
    xDom: c === 3 ? [-0.16, 6.15] : rowF.xDom,
    xTicks: d3.range(0, nIt + 1), xMinor: 0.2, yTicks: d3.range(-3, 0.01, 0.5).map(v => +v.toFixed(1)), yMinor: 0.1,
    xFmt: d3.format("d"), yFmt: d3.format(".1f"), xPad: 10, yPad: 5, tickSize: 26
  }));
  const line = d3.line().x((d, i) => p.x(i + 1)).y(d => p.y(d));
  p.plot.append("path").datum(vals).attr("d", line)
    .attr("fill", "none").attr("stroke", "#5e81b5").attr("stroke-width", 2.2);
  p.g.append("text").attr("x", p.w / 2).attr("y", p.h + 65).attr("text-anchor", "middle")
    .attr("font-family", sans).attr("font-size", 27).attr("fill", "#000").text("iteration");
  yLabel(p, -86, t => {
    t.attr("font-family", sans);
    t.append("tspan").attr("font-size", 27).text("log");
    t.append("tspan").attr("font-size", 17).attr("dy", 6).text("10");
    t.append("tspan").attr("font-size", 27).attr("dy", -6).text("[R]");
  });
});
</script>
</body>
</html>
